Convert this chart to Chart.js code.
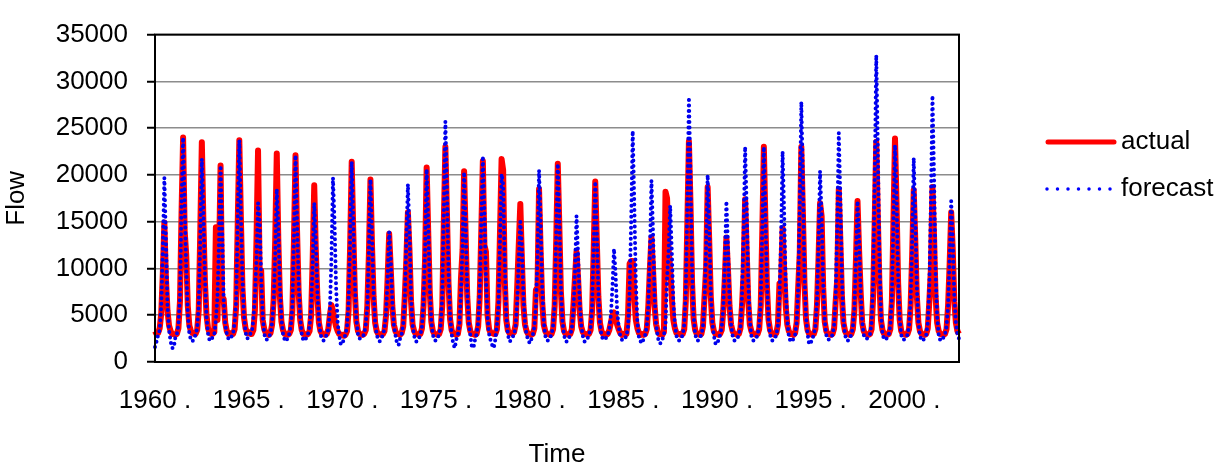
<!DOCTYPE html>
<html>
<head>
<meta charset="utf-8">
<title>Flow: actual vs forecast</title>
<script src="https://cdn.jsdelivr.net/npm/chart.js@4/dist/chart.umd.min.js"></script>
<style>
  html, body { margin: 0; padding: 0; background: #fff; }
  #wrap { width: 1226px; height: 470px; }
</style>
</head>
<body>
<div id="wrap"><canvas id="flowChart" width="1226" height="470"></canvas></div>
<script>
// years covered, one value per month
var years = [1960, 1961, 1962, 1963, 1964, 1965, 1966, 1967, 1968, 1969, 1970,
  1971, 1972, 1973, 1974, 1975, 1976, 1977, 1978, 1979, 1980, 1981, 1982, 1983,
  1984, 1985, 1986, 1987, 1988, 1989, 1990, 1991, 1992, 1993, 1994, 1995, 1996,
  1997, 1998, 1999, 2000, 2001, 2002];

var tickLabels = ['1960 .', '1965 .', '1970 .', '1975 .', '1980 .', '1985 .', '1990 .', '1995 .', '2000 .'];

var actual = [
  3300, 3000, 3100, 3600, 5200, 9500, 14900, 9000, 5500, 3900, 3300, 3000, // 1960
  3000, 2900, 3000, 3600, 6500, 16000, 24000, 14000, 11500, 6000, 3900, 3300, // 1961
  3100, 3000, 3000, 3400, 5500, 14000, 23500, 15000, 8500, 5000, 3600, 3100, // 1962
  3000, 3000, 3200, 14400, 4500, 11000, 21000, 7000, 6700, 4200, 3300, 3000, // 1963
  3100, 3000, 3000, 3500, 6000, 15000, 23700, 15500, 8000, 4800, 3600, 3100, // 1964
  3200, 3000, 3000, 3400, 5500, 13000, 22600, 10000, 9800, 4500, 3500, 3100, // 1965
  3000, 2900, 3100, 4000, 6700, 13000, 22300, 13000, 7000, 4300, 3400, 3000, // 1966
  3000, 2900, 3000, 3400, 5500, 13000, 22100, 14000, 7500, 4500, 3400, 3000, // 1967
  3000, 2900, 3000, 3300, 5000, 11000, 18900, 12000, 7000, 4200, 3300, 3000, // 1968
  3000, 2900, 3000, 3500, 5000, 6100, 5500, 4500, 3800, 3300, 3000, 2900, // 1969
  2900, 2800, 2900, 3300, 5500, 12500, 21400, 14000, 7500, 4300, 3300, 3000, // 1970
  3000, 2900, 3000, 3400, 6000, 11500, 19500, 12500, 7000, 4200, 3300, 3000, // 1971
  3000, 2900, 3000, 3300, 5000, 9000, 13700, 10000, 6000, 4000, 3300, 3000, // 1972
  3000, 2900, 3100, 3800, 7000, 11000, 16000, 12000, 6500, 4000, 3300, 3000, // 1973
  3000, 2900, 3000, 3600, 6000, 11000, 20800, 14000, 7500, 4300, 3300, 3000, // 1974
  3000, 2900, 3000, 3500, 6000, 15000, 23000, 16000, 8500, 4600, 3400, 3000, // 1975
  3000, 2900, 3000, 4000, 9000, 12000, 20400, 13500, 7000, 4200, 3300, 3000, // 1976
  3000, 2900, 3000, 3800, 7000, 14000, 21500, 12500, 11800, 5000, 3500, 3100, // 1977
  3100, 3000, 3000, 3500, 6500, 14000, 21700, 20500, 9000, 4500, 3400, 3100, // 1978
  3100, 3000, 3200, 4000, 8000, 12500, 16900, 11000, 6000, 4000, 3300, 3000, // 1979
  3000, 2900, 3000, 3600, 7700, 8000, 18500, 12000, 6500, 4000, 3300, 3000, // 1980
  3000, 2900, 3000, 3500, 6000, 13000, 21200, 14500, 7500, 4300, 3300, 3000, // 1981
  3000, 2900, 3000, 3500, 6000, 9000, 11800, 9000, 5500, 3800, 3200, 3000, // 1982
  3000, 2900, 3000, 3400, 5500, 12000, 19300, 13000, 7000, 4200, 3300, 3000, // 1983
  3000, 2900, 3000, 3400, 4200, 5000, 5300, 4800, 4000, 3500, 3100, 2900, // 1984
  3000, 2900, 3000, 5000, 10500, 10800, 10800, 7000, 4500, 3600, 3100, 2900, // 1985
  3000, 2900, 3000, 3500, 6000, 10000, 13300, 10000, 6000, 4000, 3300, 3000, // 1986
  3000, 2900, 3200, 18200, 17500, 12000, 10000, 7000, 4500, 3600, 3100, 3000, // 1987
  3000, 2900, 3000, 3500, 6500, 15000, 23600, 17000, 8500, 4600, 3400, 3000, // 1988
  3000, 2900, 3000, 3800, 7000, 10000, 18700, 13000, 7000, 4200, 3300, 3000, // 1989
  3000, 2900, 3000, 3400, 5500, 9000, 13300, 10000, 6000, 4000, 3300, 3000, // 1990
  3000, 2900, 3000, 3600, 6000, 9500, 17400, 12000, 6500, 4000, 3300, 3000, // 1991
  3000, 2900, 3000, 3500, 6000, 14000, 23000, 15000, 8000, 4500, 3400, 3000, // 1992
  3000, 2900, 3100, 4000, 8400, 8600, 14300, 10000, 6000, 4000, 3300, 3000, // 1993
  3000, 2900, 3100, 4200, 8000, 11700, 23000, 16000, 8500, 4600, 3400, 3000, // 1994
  3000, 2900, 3000, 3500, 6000, 11000, 17000, 15600, 8000, 4300, 3300, 3000, // 1995
  3000, 2900, 3000, 3600, 6500, 8800, 18500, 13000, 7000, 4200, 3300, 3000, // 1996
  3000, 2900, 3000, 3500, 5500, 11000, 17200, 12000, 7500, 4200, 3300, 3000, // 1997
  3000, 2900, 3000, 3500, 7000, 15000, 23550, 15600, 8500, 4500, 3400, 3000, // 1998
  3000, 2900, 3000, 3500, 6500, 15000, 23900, 17000, 8500, 4500, 3300, 3000, // 1999
  3000, 2900, 3000, 3500, 6000, 11500, 18400, 13000, 7000, 4200, 3300, 3000, // 2000
  3000, 2900, 3000, 3600, 6500, 10000, 18700, 13500, 7000, 4200, 3300, 3000, // 2001
  3000, 2900, 3000, 3500, 6000, 10500, 16000, 12000, 6500, 4200, 3300, 3000  // 2002
];

var forecast = [
  1600, 2200, 2900, 3400, 6000, 12000, 19700, 13000, 6000, 3400, 2200, 1500, // 1960
  1500, 2600, 3000, 4000, 7000, 17000, 24000, 17000, 10000, 5200, 3000, 2400, // 1961
  2200, 2600, 2900, 3600, 6000, 13000, 21700, 16000, 9000, 4800, 3000, 2300, // 1962
  2300, 2700, 3000, 4500, 7000, 13000, 21000, 14000, 6500, 4000, 3000, 2500, // 1963
  2400, 2700, 3000, 4200, 6500, 15500, 23700, 16000, 9000, 5000, 3200, 2500, // 1964
  2600, 3000, 3200, 4500, 7000, 11000, 17000, 15000, 9000, 5000, 3000, 2400, // 1965
  2400, 2700, 3000, 4200, 6500, 11500, 18500, 14500, 8000, 4600, 3000, 2400, // 1966
  2200, 2600, 3000, 3900, 6000, 13500, 22100, 15000, 8500, 4700, 3000, 2300, // 1967
  2300, 2600, 3000, 3800, 5800, 10500, 17000, 13000, 7500, 4400, 3000, 2400, // 1968
  2300, 2600, 2900, 3500, 5500, 11000, 19700, 15000, 8000, 4200, 2800, 1900, // 1969
  1900, 2500, 2900, 3800, 6500, 13000, 21400, 15000, 8500, 4500, 3000, 2500, // 1970
  2500, 2700, 3000, 4000, 6000, 12000, 19500, 13500, 7500, 4300, 3000, 2300, // 1971
  2200, 2500, 2900, 3600, 5200, 9000, 13900, 11000, 6500, 4000, 2900, 2000, // 1972
  1800, 2500, 3000, 4000, 6500, 13000, 19000, 14000, 7000, 4000, 2800, 2200, // 1973
  2200, 2500, 2900, 3800, 6500, 12000, 20600, 15000, 8000, 4400, 2900, 2300, // 1974
  2300, 2600, 2900, 4000, 7000, 16500, 25700, 18500, 9500, 5000, 3000, 2000, // 1975
  1500, 2400, 2900, 4000, 7500, 12500, 20300, 14500, 7500, 4200, 2800, 1600, // 1976
  1500, 2400, 3000, 4200, 7500, 15000, 22000, 16000, 9000, 4800, 3000, 2300, // 1977
  1800, 1500, 2400, 3900, 6000, 13000, 20100, 19000, 11000, 5000, 3000, 2200, // 1978
  2300, 2600, 3000, 3800, 6500, 11000, 15000, 12500, 7000, 4200, 2900, 2400, // 1979
  2000, 2400, 2900, 3800, 6000, 11000, 20500, 15000, 8000, 4300, 2800, 2300, // 1980
  2300, 2600, 2900, 3900, 6200, 13500, 21200, 15500, 8000, 4400, 2900, 2200, // 1981
  2200, 2500, 2900, 3600, 5500, 9500, 15600, 11500, 6500, 4000, 2800, 2200, // 1982
  2200, 2500, 2900, 3700, 6000, 12500, 19300, 14000, 7500, 4200, 2800, 2400, // 1983
  2400, 2600, 2900, 3500, 5000, 8000, 12100, 9500, 5500, 3800, 2800, 2400, // 1984
  2300, 2500, 2800, 3800, 7500, 15000, 24700, 17000, 8500, 4200, 2600, 2200, // 1985
  2000, 2500, 2900, 3800, 6000, 11500, 19400, 14000, 7000, 4000, 2700, 2000, // 1986
  2000, 2400, 2900, 4000, 9000, 12000, 16700, 12000, 6500, 4000, 2800, 2300, // 1987
  2300, 2500, 2900, 4000, 7500, 17000, 28300, 20000, 10000, 5000, 3000, 2300, // 1988
  2300, 2600, 2900, 3800, 6500, 12000, 20000, 14500, 7500, 4200, 2800, 2000, // 1989
  1900, 2400, 2900, 3700, 5800, 10500, 17200, 12500, 6500, 4000, 2800, 2300, // 1990
  2300, 2500, 2900, 3800, 7000, 13500, 23000, 16500, 8500, 4400, 2800, 2300, // 1991
  2300, 2500, 2900, 3900, 6500, 14500, 23000, 16000, 8500, 4500, 2900, 2300, // 1992
  2300, 2500, 2900, 3900, 7000, 13000, 22500, 16000, 8000, 4300, 2800, 2200, // 1993
  2200, 2500, 2900, 4200, 8000, 16500, 27800, 19500, 9500, 4900, 3000, 1900, // 1994
  2000, 2500, 2900, 3800, 6500, 12500, 20400, 15500, 8500, 4400, 2900, 2400, // 1995
  2400, 2600, 2900, 3900, 7000, 14500, 24500, 17500, 9000, 4500, 2900, 2300, // 1996
  2300, 2500, 2900, 3700, 5800, 11000, 17200, 13000, 7500, 4300, 2900, 2500, // 1997
  2500, 2700, 3000, 4200, 8500, 19500, 32800, 23000, 11000, 5200, 3000, 2400, // 1998
  2400, 2600, 2900, 3900, 7000, 15000, 23200, 17500, 9000, 4600, 2900, 2400, // 1999
  2400, 2600, 2900, 3800, 6500, 13000, 21800, 15500, 8000, 4300, 2800, 2300, // 2000
  2300, 2600, 2900, 4200, 8000, 17000, 28500, 20000, 9500, 4800, 2900, 2300, // 2001
  2300, 2600, 2900, 3800, 6000, 11000, 17200, 13000, 7000, 4200, 2900, 2500  // 2002
];

// one category per month
var months = [];
years.forEach(function (y) {
  for (var m = 1; m <= 12; m++) months.push(y + '-' + m);
});

var FONT = '"Liberation Sans", Arial, sans-serif';

// box round the plot area and the legend on the right
var frameAndLegend = {
  id: 'frameAndLegend',
  afterDraw: function (chart) {
    var ctx = chart.ctx;
    var a = chart.chartArea;
    ctx.save();
    ctx.strokeStyle = '#000';
    ctx.lineWidth = 2;
    ctx.strokeRect(a.left, a.top, a.right - a.left, a.bottom - a.top);

    ctx.lineCap = 'round';
    ctx.strokeStyle = '#ff0000';
    ctx.lineWidth = 5;
    ctx.beginPath();
    ctx.moveTo(1048, 142);
    ctx.lineTo(1114, 142);
    ctx.stroke();

    ctx.strokeStyle = '#0000ff';
    ctx.lineWidth = 3.5;
    ctx.setLineDash([0, 10.5]);
    ctx.beginPath();
    ctx.moveTo(1047, 189);
    ctx.lineTo(1111, 189);
    ctx.stroke();
    ctx.setLineDash([]);

    ctx.fillStyle = '#000';
    ctx.font = '26px ' + FONT;
    ctx.textBaseline = 'middle';
    ctx.textAlign = 'left';
    ctx.fillText('actual', 1121, 142);
    ctx.fillText('forecast', 1121, 189);
    ctx.restore();
  }
};

new Chart(document.getElementById('flowChart').getContext('2d'), {
  type: 'line',
  data: {
    labels: months,
    datasets: [{
      label: 'actual',
      data: actual,
      borderColor: '#ff0000',
      borderWidth: 6,
      borderJoinStyle: 'round',
      pointRadius: 0,
      tension: 0,
      order: 2
    }, {
      label: 'forecast',
      data: forecast,
      borderColor: '#0000ee',
      borderWidth: 4,
      borderDash: [0, 5.5],
      borderCapStyle: 'round',
      pointRadius: 0,
      tension: 0,
      order: 1
    }]
  },
  options: {
    responsive: false,
    animation: false,
    devicePixelRatio: 1,
    layout: { padding: { left: 0, top: 22, right: 267, bottom: 0 } },
    plugins: {
      legend: { display: false },
      tooltip: { enabled: false }
    },
    scales: {
      x: {
        type: 'category',
        offset: false,
        grid: { display: false, drawTicks: false, tickLength: 0 },
        border: { display: false },
        ticks: {
          autoSkip: false,
          maxRotation: 0,
          minRotation: 0,
          padding: 23,
          color: '#000',
          font: { family: FONT, size: 26 },
          callback: function (v, i) {
            return i % 60 === 0 ? tickLabels[i / 60] : '';
          }
        },
        title: {
          display: true,
          text: 'Time',
          color: '#000',
          font: { family: FONT, size: 26 },
          padding: { top: 0, bottom: 0 }
        },
        afterFit: function (scale) { scale.height = 108; }
      },
      y: {
        min: 0,
        max: 35000,
        grid: {
          color: '#8c8c8c',
          lineWidth: 1.5,
          tickColor: '#000',
          tickWidth: 2,
          tickLength: 8
        },
        border: { display: false },
        ticks: {
          stepSize: 5000,
          padding: 19,
          color: '#000',
          font: { family: FONT, size: 26 },
          callback: function (v) { return String(v); }
        },
        title: {
          display: true,
          text: 'Flow',
          color: '#000',
          font: { family: FONT, size: 26 },
          padding: { top: 1, bottom: 0 }
        },
        afterFit: function (scale) { scale.width = 155; }
      }
    }
  },
  plugins: [frameAndLegend]
});
</script>
</body>
</html>
